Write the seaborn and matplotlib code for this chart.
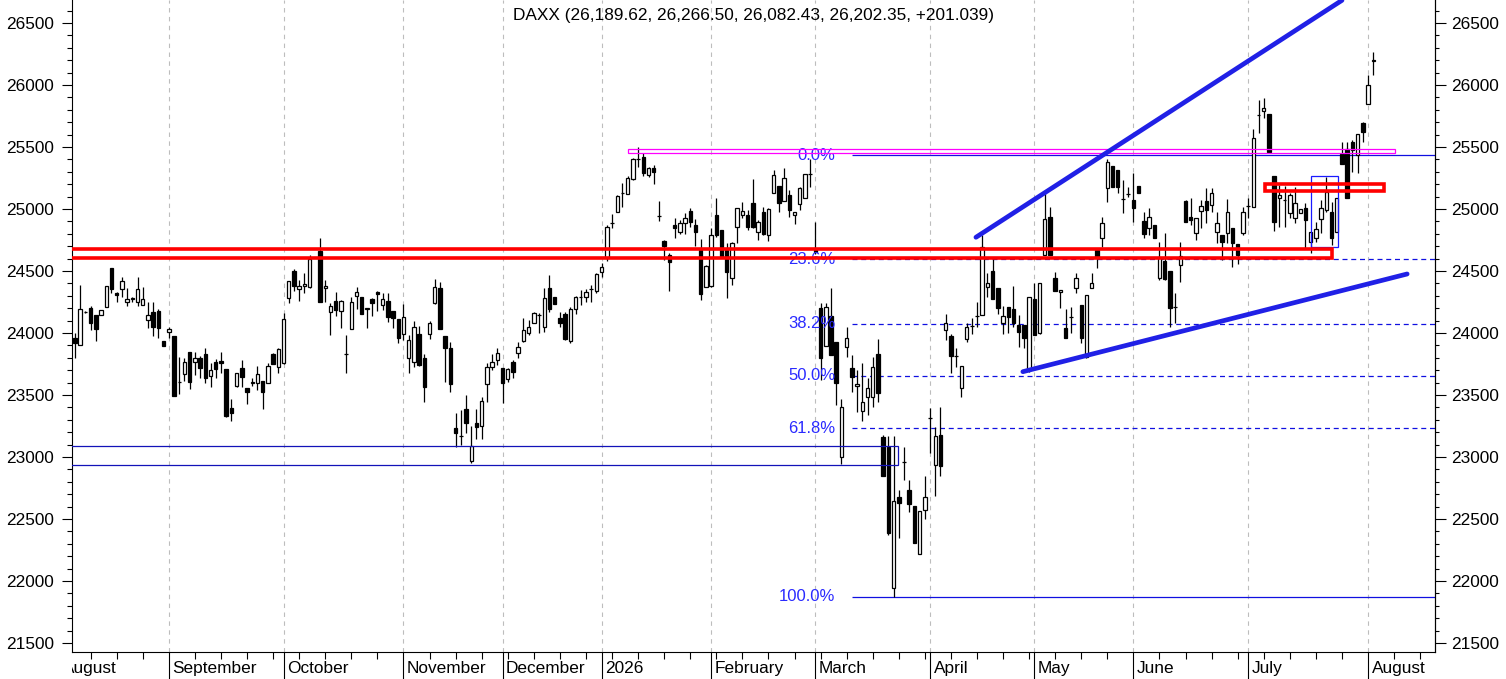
import numpy as np
import pandas as pd
import matplotlib
matplotlib.use("Agg")
import matplotlib.pyplot as plt
from matplotlib.patches import Rectangle
from matplotlib.ticker import MultipleLocator, FixedLocator, NullFormatter
from matplotlib.transforms import Bbox, TransformedBbox
import seaborn as sns

# ---------------- data ----------------
opens = [23957, 23903, 24172, 24199, 24145, 24145, 24207, 24521, 24320, 24352,
         24247, 24271, 24247, 24223, 24105, 24169, 24177, 23935, 24011, 23976,
         23602, 23667, 23844, 23764, 23795, 23828, 23653, 23764, 23774, 23707,
         23392, 23573, 23715, 23554, 23594, 23594, 23613, 23594, 23830, 23723,
         23755, 24285, 24500, 24352, 24379, 24373, np.nan, 24664, 24360, 24172,
         24258, 24180, 23828, 24030, 24301, 24288, 24191, 24271, 24331, 24226,
         24258, 24177, 24113, 23989, 23801, 23763, 23992, 23796, 23989, 24239,
         24360, 23976, 23882, 23231, 23172, 23387, 22968, 23271, 23250, 23586,
         23728, 23782, 23715, 23626, 23769, 23836, 23938, 24003, 24083, 24145,
         24051, 24360, 24288, 24124, 24153, 23938, 24191, 24293, 24293, 24355,
         24341, 24489, 24602, 24884, 24978, 25126, 25118, 25239, 25403, 25417,
         25274, 25328, 24946, 24745, 24630, 24871, 24812, 24885, 24987, 24871,
         24669, 24374, 24382, 24952, 24831, 24669, 24441, 24858, 24952, 24952,
         25051, 24812, 24979, 24790, 25126, 25185, 25067, 25113, 24952, 25040,
         25086, 25282, 24670, 24204, 23895, 24137, 23930, 23003, 23884, 23715,
         23575, 23374, 23481, 23487, 23831, 23164, 23078, 21941, 22675, 22960,
         22734, 22605, 22215, 22573, 23312, 22936, 23178, 24024, 23976, 23815,
         23559, 23949, 24059, 24140, 24145, 24374, 24500, 24360, 24078, 24207,
         24191, 24065, 24065, 23707, 24272, 24003, 24629, 24933, 24441, 24328,
         24038, 24132, 24366, 24226, 23809, 24360, 24669, 24763, 25167, 25347,
         25314, 25081, 25118, 25073, 25185, 24903, 24844, 24871, 24441, 24583,
         24500, 24212, 24548, 25065, 24933, 24809, 24986, 25065, 25032, 24817,
         24790, 24804, 24844, 24718, 24809, 25027, 25019, 25758, 25793, 25766,
         25266, 25086, 25070, 24965, 24925, 24965, 25005, 24737, 24763, 24916,
         24992, 24978, 24817, 25441, 25481, 25543, 25436, 25691, 25847, 26189.62]
highs = [23997, 24387, 24180, 24218, 24145, 24185, 24379, 24521, 24333, 24454,
         24360, 24293, 24454, 24368, 24252, 24252, 24191, 23935, 24051, 23976,
         23809, 23795, 23844, 23844, 23814, 23876, 23761, 23788, 23849, 23707,
         23465, 23675, 23782, 23554, 23634, 23734, 23613, 23761, 23841, 23882,
         24158, 24422, 24513, 24427, 24487, 24629, np.nan, 24763, 24427, 24239,
         24333, 24266, 23984, 24293, 24374, 24293, 24204, 24280, 24338, 24320,
         24325, 24177, 24113, 24234, 23984, 24099, 24057, 23831, 24097, 24433,
         24409, 23976, 23925, 23357, 23379, 23500, 23250, 23387, 23487, 23755,
         23828, 23876, 23720, 23720, 23782, 23925, 24118, 24105, 24172, 24159,
         24360, 24468, 24288, 24172, 24172, 24212, 24298, 24347, 24352, 24387,
         24487, 24567, 24871, 24960, 25113, 25212, 25266, 25408, 25497, 25449,
         25341, 25355, 25065, 24750, 24648, 24925, 24911, 24965, 25005, 24919,
         24758, 24548, 24844, 25086, 24831, 24723, 24737, 25005, 25059, 24992,
         25239, 24911, 25019, 25005, 25315, 25185, 25328, 25153, 24979, 25180,
         25282, 25400, 24898, 24239, 24239, 24366, 23930, 23465, 24051, 23823,
         23702, 23761, 23634, 23809, 23952, 23178, 23170, 23170, 22734, 23083,
         22815, 22605, 22567, 22847, 23393, 23245, 23406, 24153, 23989, 23876,
         23734, 24078, 24118, 24253, 24790, 24487, 24594, 24360, 24218, 24207,
         24379, 24145, 24065, 24288, 24400, 24400, 25140, 25013, 24495, 24347,
         24191, 24212, 24487, 24226, 24306, 24487, 24683, 24933, 25400, 25347,
         25314, 25234, 25180, 25288, 25185, 24979, 25005, 24871, 24736, 24809,
         24500, 24320, 24737, 25073, 25086, 24925, 25073, 25166, 25166, 24979,
         24790, 25078, 24844, 24718, 25019, 25086, 25643, 25879, 25893, 25766,
         25266, 25194, 25185, 25126, 25180, 24997, 25045, 24817, 24898, 25073,
         25261, 25059, 25086, 25543, 25543, 25556, 25605, 25704, 26080, 26266.50]
lows = [23801, 23903, 24165, 24024, 23938, 24145, 24207, 24320, 24252, 24293,
        24220, 24252, 24218, 24223, 24037, 23976, 23962, 23898, 23962, 23492,
        23508, 23616, 23546, 23661, 23634, 23600, 23562, 23634, 23675, 23325,
        23293, 23567, 23567, 23425, 23572, 23540, 23385, 23594, 23750, 23680,
        23747, 24245, 24341, 24260, 24320, 24360, np.nan, 24247, 24252, 23984,
        24137, 24043, 23680, 24030, 24194, 24150, 24038, 24140, 24180, 24185,
        24092, 24038, 23922, 23943, 23680, 23728, 23734, 23446, 23952, 24234,
        24032, 23607, 23527, 23083, 23097, 23196, 22949, 23145, 23142, 23446,
        23701, 23742, 23433, 23608, 23634, 23796, 23930, 23984, 24083, 24003,
        24011, 24172, 24231, 24051, 23944, 23917, 24153, 24226, 24253, 24253,
        24325, 24449, 24584, 24844, 24978, 25019, 25118, 25234, 25341, 25266,
        25261, 25199, 24903, 24590, 24341, 24764, 24798, 24798, 24852, 24702,
        24266, 24368, 24374, 24777, 24616, 24280, 24387, 24723, 24925, 24831,
        24850, 24750, 24790, 24745, 25126, 24978, 25067, 24933, 24877, 24992,
        25086, 25180, 24640, 23621, 23895, 23823, 23420, 22944, 23809, 23527,
        23366, 23290, 23339, 23406, 23446, 22847, 22371, 21874, 22344, 22815,
        22554, 22304, 22215, 22498, 23030, 22686, 22847, 23944, 23675, 23729,
        23486, 23930, 23992, 24051, 24145, 24288, 24272, 24153, 23992, 23997,
        24051, 23890, 23882, 23688, 23984, 23992, 24629, 24629, 24339, 24199,
        23957, 24003, 24320, 23917, 23796, 24360, 24527, 24691, 25059, 25180,
        25126, 24965, 25100, 24898, 25126, 24763, 24790, 24764, 24428, 24428,
        24046, 24078, 24414, 24898, 24871, 24750, 24844, 24890, 24978, 24723,
        24589, 24723, 24535, 24556, 24790, 24925, 25019, 25610, 25731, 25462,
        24825, 24858, 24858, 24925, 24884, 24965, 24683, 24643, 24737, 24804,
        24979, 24710, 24817, 25360, 25086, 25301, 25293, 25543, 25847, 26082.43]
closes = [23922, 24191, 24172, 24083, 24030, 24185, 24379, 24357, 24306, 24422,
          24271, 24285, 24352, 24271, 24145, 24051, 24037, 23898, 24032, 23492,
          23602, 23764, 23602, 23801, 23715, 23634, 23701, 23707, 23755, 23333,
          23357, 23675, 23648, 23527, 23608, 23667, 23527, 23734, 23750, 23871,
          24110, 24422, 24382, 24379, 24395, 24594, np.nan, 24247, 24381, 24220,
          24185, 24260, 23828, 24247, 24328, 24150, 24204, 24245, 24312, 24271,
          24132, 24118, 23957, 24126, 23943, 24046, 23742, 23567, 24078, 24374,
          24032, 23876, 23589, 23191, 23172, 23277, 23088, 23245, 23454, 23723,
          23763, 23836, 23594, 23707, 23688, 23884, 24024, 24046, 24159, 24145,
          24285, 24191, 24231, 24083, 23952, 24191, 24288, 24293, 24328, 24355,
          24476, 24535, 24858, 24884, 25108, 25126, 25247, 25400, 25403, 25288,
          25333, 25301, 24946, 24702, 24570, 24849, 24890, 24925, 24898, 24817,
          24312, 24540, 24790, 24790, 24616, 24495, 24723, 25005, 24984, 24852,
          24858, 24898, 24798, 24997, 25274, 25046, 25247, 24992, 24979, 25167,
          25282, 25282, 24650, 23796, 24212, 23823, 23594, 23406, 23962, 23648,
          23586, 23446, 23559, 23723, 23513, 22847, 22385, 22648, 22632, 22960,
          22618, 22304, 22567, 22675, 23312, 23170, 22928, 24078, 23815, 23815,
          23734, 24046, 24059, 24140, 24696, 24406, 24272, 24199, 24137, 24132,
          24083, 24011, 23957, 24288, 23984, 24400, 24917, 24629, 24339, 24347,
          23957, 24132, 24441, 23957, 24306, 24400, 24610, 24884, 25382, 25180,
          25175, 25081, 25118, 25005, 25126, 24798, 24938, 24764, 24602, 24433,
          24199, 24212, 24621, 24898, 24911, 24925, 25024, 24992, 25132, 24884,
          24737, 24978, 24723, 24629, 24978, 25027, 25570, 25758, 25812, 25462,
          24898, 25113, 25070, 25113, 25046, 24997, 24911, 24817, 24835, 25005,
          25140, 24763, 25086, 25360, 25091, 25476, 25605, 25624, 26001.31, 26202.35]
last_change = 201.039
symbol = "DAXX"

month_starts = [-3, 18, 40, 63, 82, 101, 122, 142, 164, 184, 203, 225, 248]
month_labels = ["August", "September", "October", "November", "December", "2026",
                "February", "March", "April", "May", "June", "July", "August"]

# drawn annotations (trading-day index, price)
upper_trend_x = [172.8, 243.0]
upper_trend_y = [24772, 26683]
lower_trend_x = [181.8, 255.5]
lower_trend_y = [23688, 24476]

fib_high = 25433
fib_low = 21874
fib_ratios = [0.0, 0.236, 0.382, 0.5, 0.618, 1.0]
fib_labels = ["0.0%", "23.6%", "38.2%", "50.0%", "61.8%", "100.0%"]

# zones: (x_start, x_end, price_low, price_high)
red_zone_big = (-2.0, 241.1, 24605, 24677)
red_zone_small = (228.2, 251.0, 25143, 25199)
blue_box = (237.0, 242.2, 24691, 25266)
magenta_box = (106.1, 253.2, 25449, 25481)
navy_box = (-3.0, 157.8, 22932, 23092)

# ---------------- style ----------------
sns.set_theme(style="white")
plt.rcParams['font.family'] = ['Liberation Sans', 'DejaVu Sans']
plt.rcParams['axes.edgecolor'] = 'black'
plt.rcParams['xtick.color'] = 'black'
plt.rcParams['ytick.color'] = 'black'

FS = 12.4
XL = (-0.63, 260.9)
YL = (21427.4, 26685.5)

fig = plt.figure(figsize=(15.06, 6.79), dpi=100)
ax = fig.add_axes([71.7 / 1506, 27 / 679, (1435.3 - 71.7) / 1506, 652 / 679])

o = np.array(opens, float)
h = np.array(highs, float)
l = np.array(lows, float)
c = np.array(closes, float)
idx = np.arange(len(o))
valid = ~np.isnan(o)
up = valid & (c >= o)
dn = valid & (c < o)

# month grid lines
for m in month_starts:
    ax.axvline(m, color='#bdbdbd', lw=0.8, ls=(0, (4, 4)), zorder=0.5)

# fibonacci levels
fib_start = 149.0
for r, lab in zip(fib_ratios, fib_labels):
    lvl = fib_high - r * (fib_high - fib_low)
    ls = '-' if r in (0.0, 1.0) else (0, (4, 3))
    ax.hlines(lvl, fib_start, XL[1], colors='#1010e0', lw=0.9, linestyles=ls, zorder=2)
    ax.text(145.8, lvl, lab, ha='right', va='center', color='#2a2aff',
            fontsize=FS - 0.4, zorder=4.5)

# candles
wl = np.fmin(l, np.fmin(o, c))
wh = np.fmax(h, np.fmax(o, c))
ax.vlines(idx[valid], wl[valid], wh[valid], colors='black', lw=0.9, zorder=3)
bw = 0.66
ax.bar(idx[up], (c - o)[up], bottom=o[up], width=bw, color='white',
       edgecolor='black', linewidth=0.9, zorder=4)
ax.bar(idx[dn], (o - c)[dn], bottom=c[dn], width=bw, color='black',
       edgecolor='black', linewidth=0.9, zorder=4)

# zones
def box(z, color, lw, zo):
    x0, x1, y0, y1 = z
    ax.add_patch(Rectangle((x0, y0), x1 - x0, y1 - y0, fill=False,
                           edgecolor=color, lw=lw, zorder=zo, clip_on=True))

box(navy_box, '#1212b8', 0.9, 5)
box(magenta_box, '#ff00ff', 0.9, 5)
box(blue_box, '#1a1aff', 0.9, 5.2)
box(red_zone_big, '#ff0000', 2.6, 5.5)
box(red_zone_small, '#ff0000', 2.6, 5.5)

# trend lines via seaborn
trend = pd.DataFrame({
    'x': upper_trend_x + lower_trend_x,
    'y': upper_trend_y + lower_trend_y,
    'seg': ['upper', 'upper', 'lower', 'lower'],
})
sns.lineplot(data=trend, x='x', y='y', units='seg', estimator=None, sort=False,
             color='#2020e6', linewidth=3.4, ax=ax, legend=False, zorder=6)
ax.set_xlabel('')
ax.set_ylabel('')

ax.set_xlim(*XL)
ax.set_ylim(*YL)

# title
ttl = f"{symbol} ({o[-1]:,.2f}, {h[-1]:,.2f}, {l[-1]:,.2f}, {c[-1]:,.2f}, {last_change:+,.3f})"
ax.text(0.5, 1 - 15.5 / 652, ttl, transform=ax.transAxes, ha='center', va='center',
        fontsize=FS, color='black', zorder=8)

# y axis left
ax.yaxis.set_major_locator(MultipleLocator(500))
ax.yaxis.set_minor_locator(MultipleLocator(100))
ax.tick_params(axis='y', which='major', direction='out', length=7.2, width=0.8,
               labelsize=FS, pad=5.5, left=True, right=False)
ax.tick_params(axis='y', which='minor', direction='out', length=3.6, width=0.8,
               left=True, right=False)

# x axis
ax.xaxis.set_major_locator(FixedLocator(month_starts))
ax.xaxis.set_major_formatter(NullFormatter())
ax.xaxis.set_minor_locator(FixedLocator(np.arange(-2, 261, 5)))
ax.tick_params(axis='x', which='major', direction='out', length=19.5, width=0.8, bottom=True)
ax.tick_params(axis='x', which='minor', direction='out', length=5, width=0.8, bottom=True)

for sp in ['left', 'bottom', 'right']:
    ax.spines[sp].set_visible(True)
    ax.spines[sp].set_color('black')
    ax.spines[sp].set_linewidth(0.8)
ax.spines['top'].set_visible(False)

# right axis
ax2 = ax.twinx()
ax2.set_ylim(*YL)
ax2.yaxis.set_major_locator(MultipleLocator(500))
ax2.yaxis.set_minor_locator(MultipleLocator(100))
ax2.tick_params(axis='y', which='major', direction='out', length=8.2, width=0.8,
                labelsize=FS, pad=3.4, right=True, left=False)
ax2.tick_params(axis='y', which='minor', direction='out', length=3.0, width=0.8,
                right=True, left=False)
ax2.grid(False)
ax.grid(False)
for sp in ['left', 'top', 'bottom']:
    ax2.spines[sp].set_visible(False)
ax2.spines['right'].set_color('black')
ax2.spines['right'].set_linewidth(0.8)

# month labels (clipped at the left spine)
fig.canvas.draw()
axbb = ax.get_position()
clipbox = TransformedBbox(Bbox([[axbb.x0, 0.0], [1.0, 1.0]]), fig.transFigure)
for m, lab in zip(month_starts, month_labels):
    t = ax.annotate(lab, xy=(m, 0), xycoords=('data', 'axes fraction'),
                    xytext=(2.5, -15.3), textcoords='offset points',
                    ha='left', va='baseline', fontsize=FS, color='black',
                    annotation_clip=False)
    t.set_clip_box(clipbox)
    t.set_clip_on(True)

fig.savefig('out.png', dpi=100)
